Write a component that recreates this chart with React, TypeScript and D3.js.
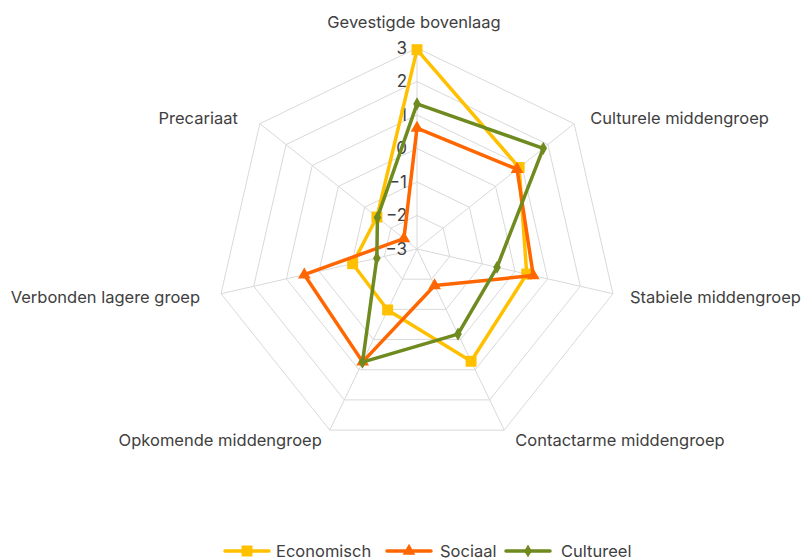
import React from 'react';
import * as d3 from 'd3';

const axes = [
  'Gevestigde bovenlaag',
  'Culturele middengroep',
  'Stabiele middengroep',
  'Contactarme middengroep',
  'Opkomende middengroep',
  'Verbonden lagere groep',
  'Precariaat',
];

const economisch = [2.95, 0.9, 0.36, 0.72, -0.98, -1.03, -1.47];
const sociaal = [0.61, 0.82, 0.56, -1.79, 0.74, 0.45, -2.5];
const cultureel = [1.33, 1.82, -0.55, -0.18, 0.75, -1.77, -1.49];

const ticks = [-3, -2, -1, 0, 1, 2, 3];

const series = [
  { name: 'Economisch', values: economisch, color: '#FFC000', symbol: d3.symbolSquare, size: 120 },
  { name: 'Sociaal', values: sociaal, color: '#FF6600', symbol: d3.symbolTriangle, size: 70 },
  { name: 'Cultureel', values: cultureel, color: '#6F8A1F', symbol: d3.symbolDiamond, size: 50 },
];

const W = 803;
const H = 560;
const cx = 417;
const cy = 249;
const R = 201;
const font = 'Inter, "Noto Sans", sans-serif';

// label offsets from the outer vertex of each axis
const labelOffsets: [number, number, string][] = [
  [-3, -26, 'middle'],
  [16, -5, 'start'],
  [17, 3, 'start'],
  [11, 10, 'start'],
  [-8, 10, 'end'],
  [-21, 3, 'end'],
  [-22, -5, 'end'],
];

const App = () => {
  const r = d3.scaleLinear().domain([-3, 3]).range([0, R]);
  const angle = d3
    .scaleLinear()
    .domain([0, axes.length])
    .range([0, 2 * Math.PI]);

  const pt = (i: number, v: number): [number, number] => {
    const a = angle(i);
    return [cx + r(v) * Math.sin(a), cy - r(v) * Math.cos(a)];
  };

  const line = d3.line<[number, number]>().curve(d3.curveLinearClosed);

  const legendItems = [
    { x: 225, tx: 276 },
    { x: 387, tx: 440 },
    { x: 506, tx: 561 },
  ];

  return (
    <svg width={W} height={H} style={{ position: 'absolute', left: 0, top: 0 }}>
      <rect width={W} height={H} fill="#fff" />
      {/* grid rings */}
      {ticks.slice(1).map((t) => (
        <path
          key={t}
          d={line(axes.map((_, i) => pt(i, t))) || ''}
          fill="none"
          stroke="#d9d9d9"
          strokeWidth={1}
        />
      ))}
      {/* spokes */}
      {axes.map((_, i) => {
        const [x, y] = pt(i, 3);
        return <line key={i} x1={cx} y1={cy} x2={x} y2={y} stroke="#d9d9d9" strokeWidth={1} />;
      })}
      {/* tick labels */}
      {ticks.map((t) => (
        <text
          key={t}
          x={cx - 10}
          y={cy - r(t)}
          dy="0.35em"
          textAnchor="end"
          fontFamily={font}
          fontSize={17}
          fill="#404040"
        >
          {t < 0 ? '\u2212' + Math.abs(t) : t}
        </text>
      ))}
      {/* axis labels */}
      {axes.map((name, i) => {
        const [x, y] = pt(i, 3);
        const [dx, dy, anchor] = labelOffsets[i];
        return (
          <text
            key={name}
            x={x + dx}
            y={y + dy}
            dy="0.35em"
            textAnchor={anchor}
            fontFamily={font}
            fontSize={16.5}
            fill="#404040"
          >
            {name}
          </text>
        );
      })}
      {/* series */}
      {series.map((s) => (
        <g key={s.name}>
          <path
            d={line(s.values.map((v, i) => pt(i, v))) || ''}
            fill="none"
            stroke={s.color}
            strokeWidth={3.5}
            strokeLinejoin="round"
          />
          {s.values.map((v, i) => {
            const [x, y] = pt(i, v);
            return (
              <path
                key={i}
                transform={`translate(${x},${y})`}
                d={d3.symbol().type(s.symbol).size(s.size)() || ''}
                fill={s.color}
              />
            );
          })}
        </g>
      ))}
      {/* legend */}
      {series.map((s, k) => {
        const it = legendItems[k];
        return (
          <g key={s.name}>
            <line x1={it.x} x2={it.x + 44} y1={551} y2={551} stroke={s.color} strokeWidth={3.5} strokeLinecap="round" />
            <path
              transform={`translate(${it.x + 22},551)`}
              d={d3.symbol().type(s.symbol).size(s.size)() || ''}
              fill={s.color}
            />
            <text x={it.tx} y={551} dy="0.35em" fontFamily={font} fontSize={16.5} fill="#404040">
              {s.name}
            </text>
          </g>
        );
      })}
    </svg>
  );
};

export default App;
